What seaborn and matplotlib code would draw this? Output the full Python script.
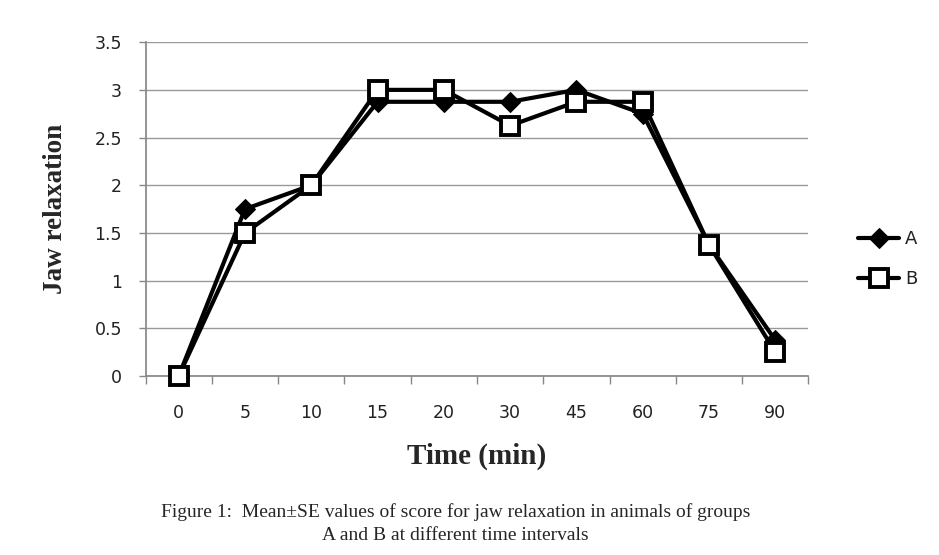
import matplotlib
matplotlib.use("Agg")
import matplotlib.pyplot as plt
import seaborn as sns
import pandas as pd
import numpy as np

times = ["0", "5", "10", "15", "20", "30", "45", "60", "75", "90"]
group_a = [0, 1.75, 2.0, 2.875, 2.875, 2.875, 3.0, 2.75, 1.375, 0.375]
group_b = [0, 1.5, 2.0, 3.0, 3.0, 2.625, 2.875, 2.875, 1.375, 0.25]

sns.set_theme(style="white")
plt.rcParams['font.family'] = ['DejaVu Sans']

df = pd.DataFrame({
    "pos": list(range(len(times))) * 2,
    "value": group_a + group_b,
    "group": ["A"] * len(times) + ["B"] * len(times),
})

fig = plt.figure(figsize=(9.39, 5.55), dpi=100)
ax = fig.add_axes([0.155, 0.3225, 0.706, 0.6015])

sns.lineplot(data=df[df.group == "A"], x="pos", y="value", ax=ax, color="black",
             linewidth=3, marker="D", markersize=10, markerfacecolor="black",
             markeredgecolor="black", label="A", zorder=3, clip_on=False)
sns.lineplot(data=df[df.group == "B"], x="pos", y="value", ax=ax, color="black",
             linewidth=3, marker="s", markersize=13, markerfacecolor="white",
             markeredgecolor="black", markeredgewidth=2.8, label="B", zorder=4, clip_on=False)

ax.set_xlim(-0.5, len(times) - 0.5)
ax.set_ylim(0, 3.5)
ax.set_yticks(np.arange(0, 3.51, 0.5))
ax.set_yticklabels(["0", "0.5", "1", "1.5", "2", "2.5", "3", "3.5"])
ax.set_xticks(range(len(times)))
ax.set_xticklabels(times)
ax.set_xticks(np.arange(-0.5, len(times), 1.0), minor=True)
ax.tick_params(axis="x", which="major", length=0, pad=20, labelsize=12.5, labelcolor="#222222")
ax.tick_params(axis="x", which="minor", length=6, width=1, color="#888888", direction="out", bottom=True)
ax.tick_params(axis="y", which="major", length=5, width=1, color="#888888", direction="out", left=True,
               labelsize=12.5, pad=12, labelcolor="#222222")

ax.yaxis.grid(True, color="#999999", linewidth=1)
ax.xaxis.grid(False)
for s in ["top", "right"]:
    ax.spines[s].set_visible(False)
ax.spines["left"].set_color("#888888")
ax.spines["bottom"].set_color("#888888")

ax.set_xlabel("Time (min)", fontfamily="Liberation Serif", fontweight="bold", fontsize=21, labelpad=15)
ax.set_ylabel("Jaw relaxation", fontfamily="Liberation Serif", fontweight="bold", fontsize=19.5, labelpad=19)

leg = ax.legend(loc="center left", bbox_to_anchor=(1.05, 0.35), frameon=False, fontsize=13,
                handlelength=2.3, labelspacing=1.25, handletextpad=0.3)
for t in leg.get_texts():
    t.set_color("#222222")

fig.text(0.485, 0.068, "Figure 1:  Mean±SE values of score for jaw relaxation in animals of groups",
         ha="center", fontfamily="Liberation Serif", fontsize=14)
fig.text(0.485, 0.027, "A and B at different time intervals",
         ha="center", fontfamily="Liberation Serif", fontsize=14)

fig.savefig("out.png", dpi=100)
